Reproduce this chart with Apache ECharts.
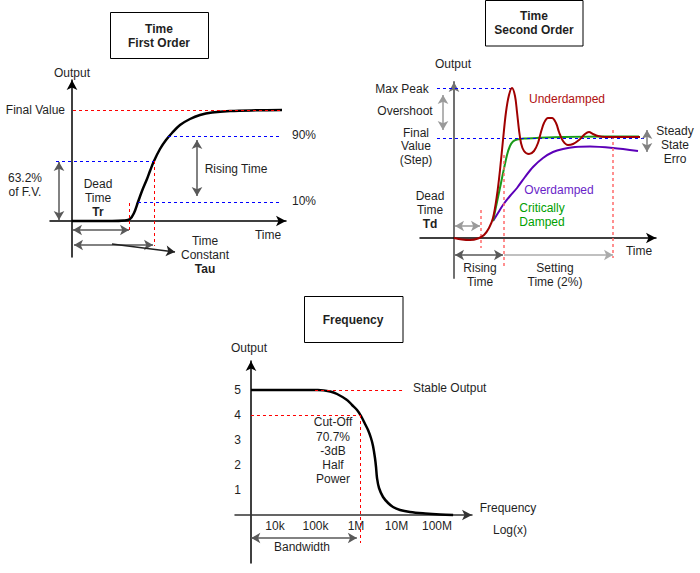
<!DOCTYPE html>
<html><head><meta charset="utf-8">
<script src="https://cdn.jsdelivr.net/npm/echarts@6/dist/echarts.min.js"></script>
<style>html,body{margin:0;padding:0;background:#fff}#c{width:700px;height:573px}</style>
</head><body><div id="c"></div>
<script>
// ---- First order step response (time units, output units; 0 = dead-time origin) ----
const firstOrderT = [0, 20, 40, 52, 58, 62, 66, 70, 75, 78, 82, 88, 94, 100, 108, 118, 128, 140, 158, 185, 210];
const firstOrderY = [0, 0, 0, 0.5, 2, 8, 19, 30, 42, 50, 60, 72, 81, 88, 96, 102, 106, 108.5, 110, 110.7, 111];

// ---- Second order step responses ----
const underT = [0, 8, 16, 24, 30, 35, 39, 43, 46, 49, 52, 55, 58, 61, 63, 65, 67, 70, 75, 80, 84, 87, 90, 94, 98, 102, 105, 109, 114, 119, 125, 131, 135, 139, 144, 151, 166, 186];
const underY = [0, -1.5, -2, -0.5, 3, 10, 20, 43, 68, 98, 126, 143, 150, 142, 126, 108, 95, 87, 84, 87, 95, 106, 115, 120, 120, 115, 106, 97, 93, 94, 98, 104, 106, 104, 102, 101, 101, 101];
const critT = [39, 47, 53, 56, 59, 63, 70, 85, 110, 150, 185];
const critY = [17, 55, 83, 92, 96.5, 98.5, 99.5, 100.2, 101, 101.5, 101.5];
const overT = [39, 44, 49, 56, 63, 71, 79, 89, 99, 109, 121, 136, 159, 184];
const overY = [17, 25, 33, 42, 50, 61, 71, 80, 86, 89, 91, 91.5, 90, 87];

// ---- Frequency response ----
const freqHz = [2550, 13000, 115000, 230000, 340000, 600000, 800000, 1060000, 1330000, 1670000, 1980000, 2340000, 2630000, 2940000, 3120000, 3300000, 3700000, 4650000, 6200000, 8200000, 12200000, 21500000, 51000000, 119000000, 250000000];
const freqOut = [5, 5, 5, 4.94, 4.84, 4.6, 4.4, 4.2, 3.96, 3.64, 3.4, 3.08, 2.76, 2.28, 1.92, 1.48, 1.08, 0.72, 0.48, 0.32, 0.2, 0.12, 0.06, 0.02, 0];
const freqTickValues = [1e4, 1e5, 1e6, 1e7, 1e8];
const freqTickLabels = ['10k', '100k', '1M', '10M', '100M'];
const outputTicks = [1, 2, 3, 4, 5];

const zip = (a, b) => a.map((v, i) => [v, b[i]]);
const FONT = '12px "Liberation Sans", Arial, sans-serif';
const BFONT = 'bold 12px "Liberation Sans", Arial, sans-serif';
const TXT = '#1f1f1f';

function seg(p1, p2, color, opt) {
  opt = opt || {};
  const dash = opt.dash;
  const s1 = opt.arrow === 'both' ? 'arrow' : 'none';
  const s2 = (opt.arrow === 'both' || opt.arrow === 'end') ? 'arrow' : 'none';
  return [
    { coord: p1, symbol: s1, symbolSize: [8, 9],
      lineStyle: { color: color, width: opt.width || 1, type: dash || 'solid', opacity: 1 } },
    { coord: p2, symbol: s2, symbolSize: [8, 9] }
  ];
}
function ml(data) {
  return { silent: true, animation: false, symbol: 'none', label: { show: false }, emphasis: { disabled: true }, data: data };
}
const RED = '#ff0000', BLUE = '#0000ff', SAL = '#ff6b6b', G1 = '#595959', G2 = '#9a9a9a';
const D = [3, 3];

function axisLine(color, w) {
  return { show: true, symbol: ['none', 'arrow'], symbolSize: [8, 10], lineStyle: { color: color, width: w } };
}
const hiddenBits = { axisTick: { show: false }, axisLabel: { show: false }, splitLine: { show: false } };

function T(x, y, text, o) {
  o = o || {};
  return { type: 'text', silent: true, style: { x: x, y: y, text: text, font: o.bold ? BFONT : FONT,
    fill: o.color || TXT, align: o.align || 'center', verticalAlign: 'middle' } };
}
function box(x, y, w, h) {
  return { type: 'rect', silent: true, shape: { x: x, y: y, width: w, height: h },
    style: { fill: '#fff', stroke: '#000', lineWidth: 1 } };
}

const option = {
  animation: false,
  backgroundColor: '#fff',
  grid: [
    { left: 50, top: 80, width: 236, height: 177, outerBoundsMode: 'none' },
    { left: 420, top: 82, width: 236, height: 196, outerBoundsMode: 'none' },
    { left: 235, top: 361, width: 237, height: 202, outerBoundsMode: 'none' }
  ],
  xAxis: [
    Object.assign({ type: 'value', gridIndex: 0, min: -22, max: 214, axisLine: axisLine('#000', 1.5) }, hiddenBits),
    Object.assign({ type: 'value', gridIndex: 1, min: -34, max: 202, axisLine: axisLine('#000', 1.5) }, hiddenBits),
    { type: 'log', gridIndex: 2, logBase: 10, min: 1028, max: 7.31e8, position: 'bottom', offset: -48,
      axisLine: Object.assign(axisLine('#333', 1.5), { onZero: false }),
      axisTick: { show: false }, splitLine: { show: false },
      axisLabel: { show: true, customValues: freqTickValues, margin: 5, color: TXT, fontSize: 12,
        fontFamily: '"Liberation Sans", Arial, sans-serif',
        formatter: v => { const i = freqTickValues.findIndex(t => Math.abs(Math.log10(t) - Math.log10(v)) < 0.01); return i >= 0 ? freqTickLabels[i] : ''; } } }
  ],
  yAxis: [
    Object.assign({ type: 'value', gridIndex: 0, min: -36, max: 141, axisLine: axisLine('#000', 1.5) }, hiddenBits),
    Object.assign({ type: 'value', gridIndex: 1, min: -40, max: 156, axisLine: axisLine('#707070', 2) }, hiddenBits),
    { type: 'value', gridIndex: 2, min: -1.92, max: 6.16, position: 'left', offset: -16,
      axisLine: Object.assign(axisLine('#000', 1.5), { onZero: false }),
      axisTick: { show: false }, splitLine: { show: false },
      axisLabel: { show: true, customValues: outputTicks, margin: 10, color: TXT, fontSize: 12,
        fontFamily: '"Liberation Sans", Arial, sans-serif' } }
  ],
  series: [
    { type: 'line', xAxisIndex: 0, yAxisIndex: 0, data: zip(firstOrderT, firstOrderY), smooth: 0.35,
      symbol: 'none', lineStyle: { color: '#000', width: 2.5 }, z: 3,
      markLine: ml([
        seg([1, 111], [210, 111], RED, { dash: D }),
        seg([96, 85], [210, 85], BLUE, { dash: D }),
        seg([66, 19], [210, 19], BLUE, { dash: D }),
        seg([-16, 60], [82, 60], BLUE, { dash: D }),
        seg([57, 18], [57, -10], RED, { dash: D }),
        seg([82, 60], [82, -25], RED, { dash: D }),
        seg([125, 81], [125, 25], G1, { arrow: 'both', width: 1.5 }),
        seg([-13, 59], [-13, 1], G1, { arrow: 'both', width: 1.5 }),
        seg([1, -9], [57, -9], G1, { arrow: 'both', width: 1.5 }),
        seg([2, -24], [81, -24], G1, { arrow: 'both', width: 1.5 }),
        seg([40, -23], [103, -31], '#222', { arrow: 'end', width: 1.5 })
      ]) },
    { type: 'line', xAxisIndex: 1, yAxisIndex: 1, data: zip(overT, overY), smooth: 0.3,
      symbol: 'none', lineStyle: { color: '#5c00b8', width: 2 }, z: 3,
      markLine: ml([
        seg([-17, 150], [58, 150], BLUE, { dash: D }),
        seg([-17, 100], [191, 100], BLUE, { dash: D }),
        seg([27, 28], [27, -10], SAL, { dash: D, width: 1.5 }),
        seg([50, 83], [50, -30], SAL, { dash: D, width: 1.5 }),
        seg([159, 108], [159, -20], SAL, { dash: D, width: 1.5 }),
        seg([-11, 143], [-11, 108], G2, { arrow: 'both', width: 1.5 }),
        seg([1, 12], [26, 12], G2, { arrow: 'both', width: 1.5 }),
        seg([1, -17], [49, -17], G1, { arrow: 'both', width: 1.5 }),
        seg([50, -17], [159, -17], '#ababab', { arrow: 'end', width: 1.5 }),
        seg([193, 108], [193, 86], '#808080', { arrow: 'both', width: 1.5 })
      ]) },
    { type: 'line', xAxisIndex: 1, yAxisIndex: 1, data: zip(critT, critY), smooth: 0.3,
      symbol: 'none', lineStyle: { color: '#1a9a1a', width: 2 }, z: 4 },
    { type: 'line', xAxisIndex: 1, yAxisIndex: 1, data: zip(underT, underY), smooth: 0.35,
      symbol: 'none', lineStyle: { color: '#a00000', width: 2 }, z: 5 },
    { type: 'line', xAxisIndex: 2, yAxisIndex: 2, data: zip(freqHz, freqOut), smooth: 0.35,
      symbol: 'none', lineStyle: { color: '#000', width: 2.5 }, z: 3,
      markLine: ml([
        seg([97300, 5], [1.62e7, 5], RED, { dash: D }),
        seg([2550, 4], [1.26e6, 4], RED, { dash: D }),
        seg([1.26e6, 4], [1.26e6, -1.12], RED, { dash: D }),
        seg([2600, -0.92], [1.05e6, -0.92], G1, { arrow: 'both', width: 1.5 })
      ]) }
  ],
  graphic: [
    box(110.5, 12.5, 98, 46), box(485.5, 0.5, 97.5, 45.5), box(304.5, 296.5, 98.5, 46),
    T(159, 29, 'Time', { bold: true }), T(159, 43, 'First Order', { bold: true }),
    T(72, 73, 'Output'),
    T(65, 110, 'Final Value', { align: 'right' }),
    T(292, 135, '90%', { align: 'left' }), T(292, 201, '10%', { align: 'left' }),
    T(236, 169, 'Rising Time'),
    T(25, 178, '63.2%'), T(25, 192, 'of F.V.'),
    T(98, 184, 'Dead'), T(98, 198, 'Time'), T(98, 212, 'Tr', { bold: true }),
    T(205, 241, 'Time'), T(205, 255, 'Constant'), T(205, 269, 'Tau', { bold: true }),
    T(268, 235, 'Time'),

    T(534, 16, 'Time', { bold: true }), T(534, 30, 'Second Order', { bold: true }),
    T(453, 64, 'Output'),
    T(402, 89, 'Max Peak'), T(405, 111, 'Overshoot'),
    T(416, 133, 'Final'), T(416, 146, 'Value'), T(416, 160, '(Step)'),
    T(430, 196, 'Dead'), T(430, 210, 'Time'), T(430, 224, 'Td', { bold: true }),
    T(567, 99, 'Underdamped', { color: '#b01010' }),
    T(559, 190, 'Overdamped', { color: '#6a1fc8' }),
    T(542, 208, 'Critically', { color: '#00a000' }), T(542, 222, 'Damped', { color: '#00a000' }),
    T(639, 251, 'Time'),
    T(480, 268, 'Rising'), T(480, 282, 'Time'),
    T(555, 268, 'Setting'), T(555, 282, 'Time (2%)'),
    T(675, 131, 'Steady'), T(675, 145, 'State'), T(675, 159, 'Erro'),

    T(353, 320, 'Frequency', { bold: true }),
    T(249, 348, 'Output'),
    T(413, 388, 'Stable Output', { align: 'left' }),
    T(333, 422, 'Cut-Off'), T(333, 437, '70.7%'), T(333, 451, '-3dB'), T(333, 465, 'Half'), T(333, 479, 'Power'),
    T(508, 508, 'Frequency'), T(510, 530, 'Log(x)'),
    T(302, 547, 'Bandwidth')
  ]
};
const chart = echarts.init(document.getElementById('c'), null, { renderer: 'svg' });
chart.setOption(option);
</script></body></html>
